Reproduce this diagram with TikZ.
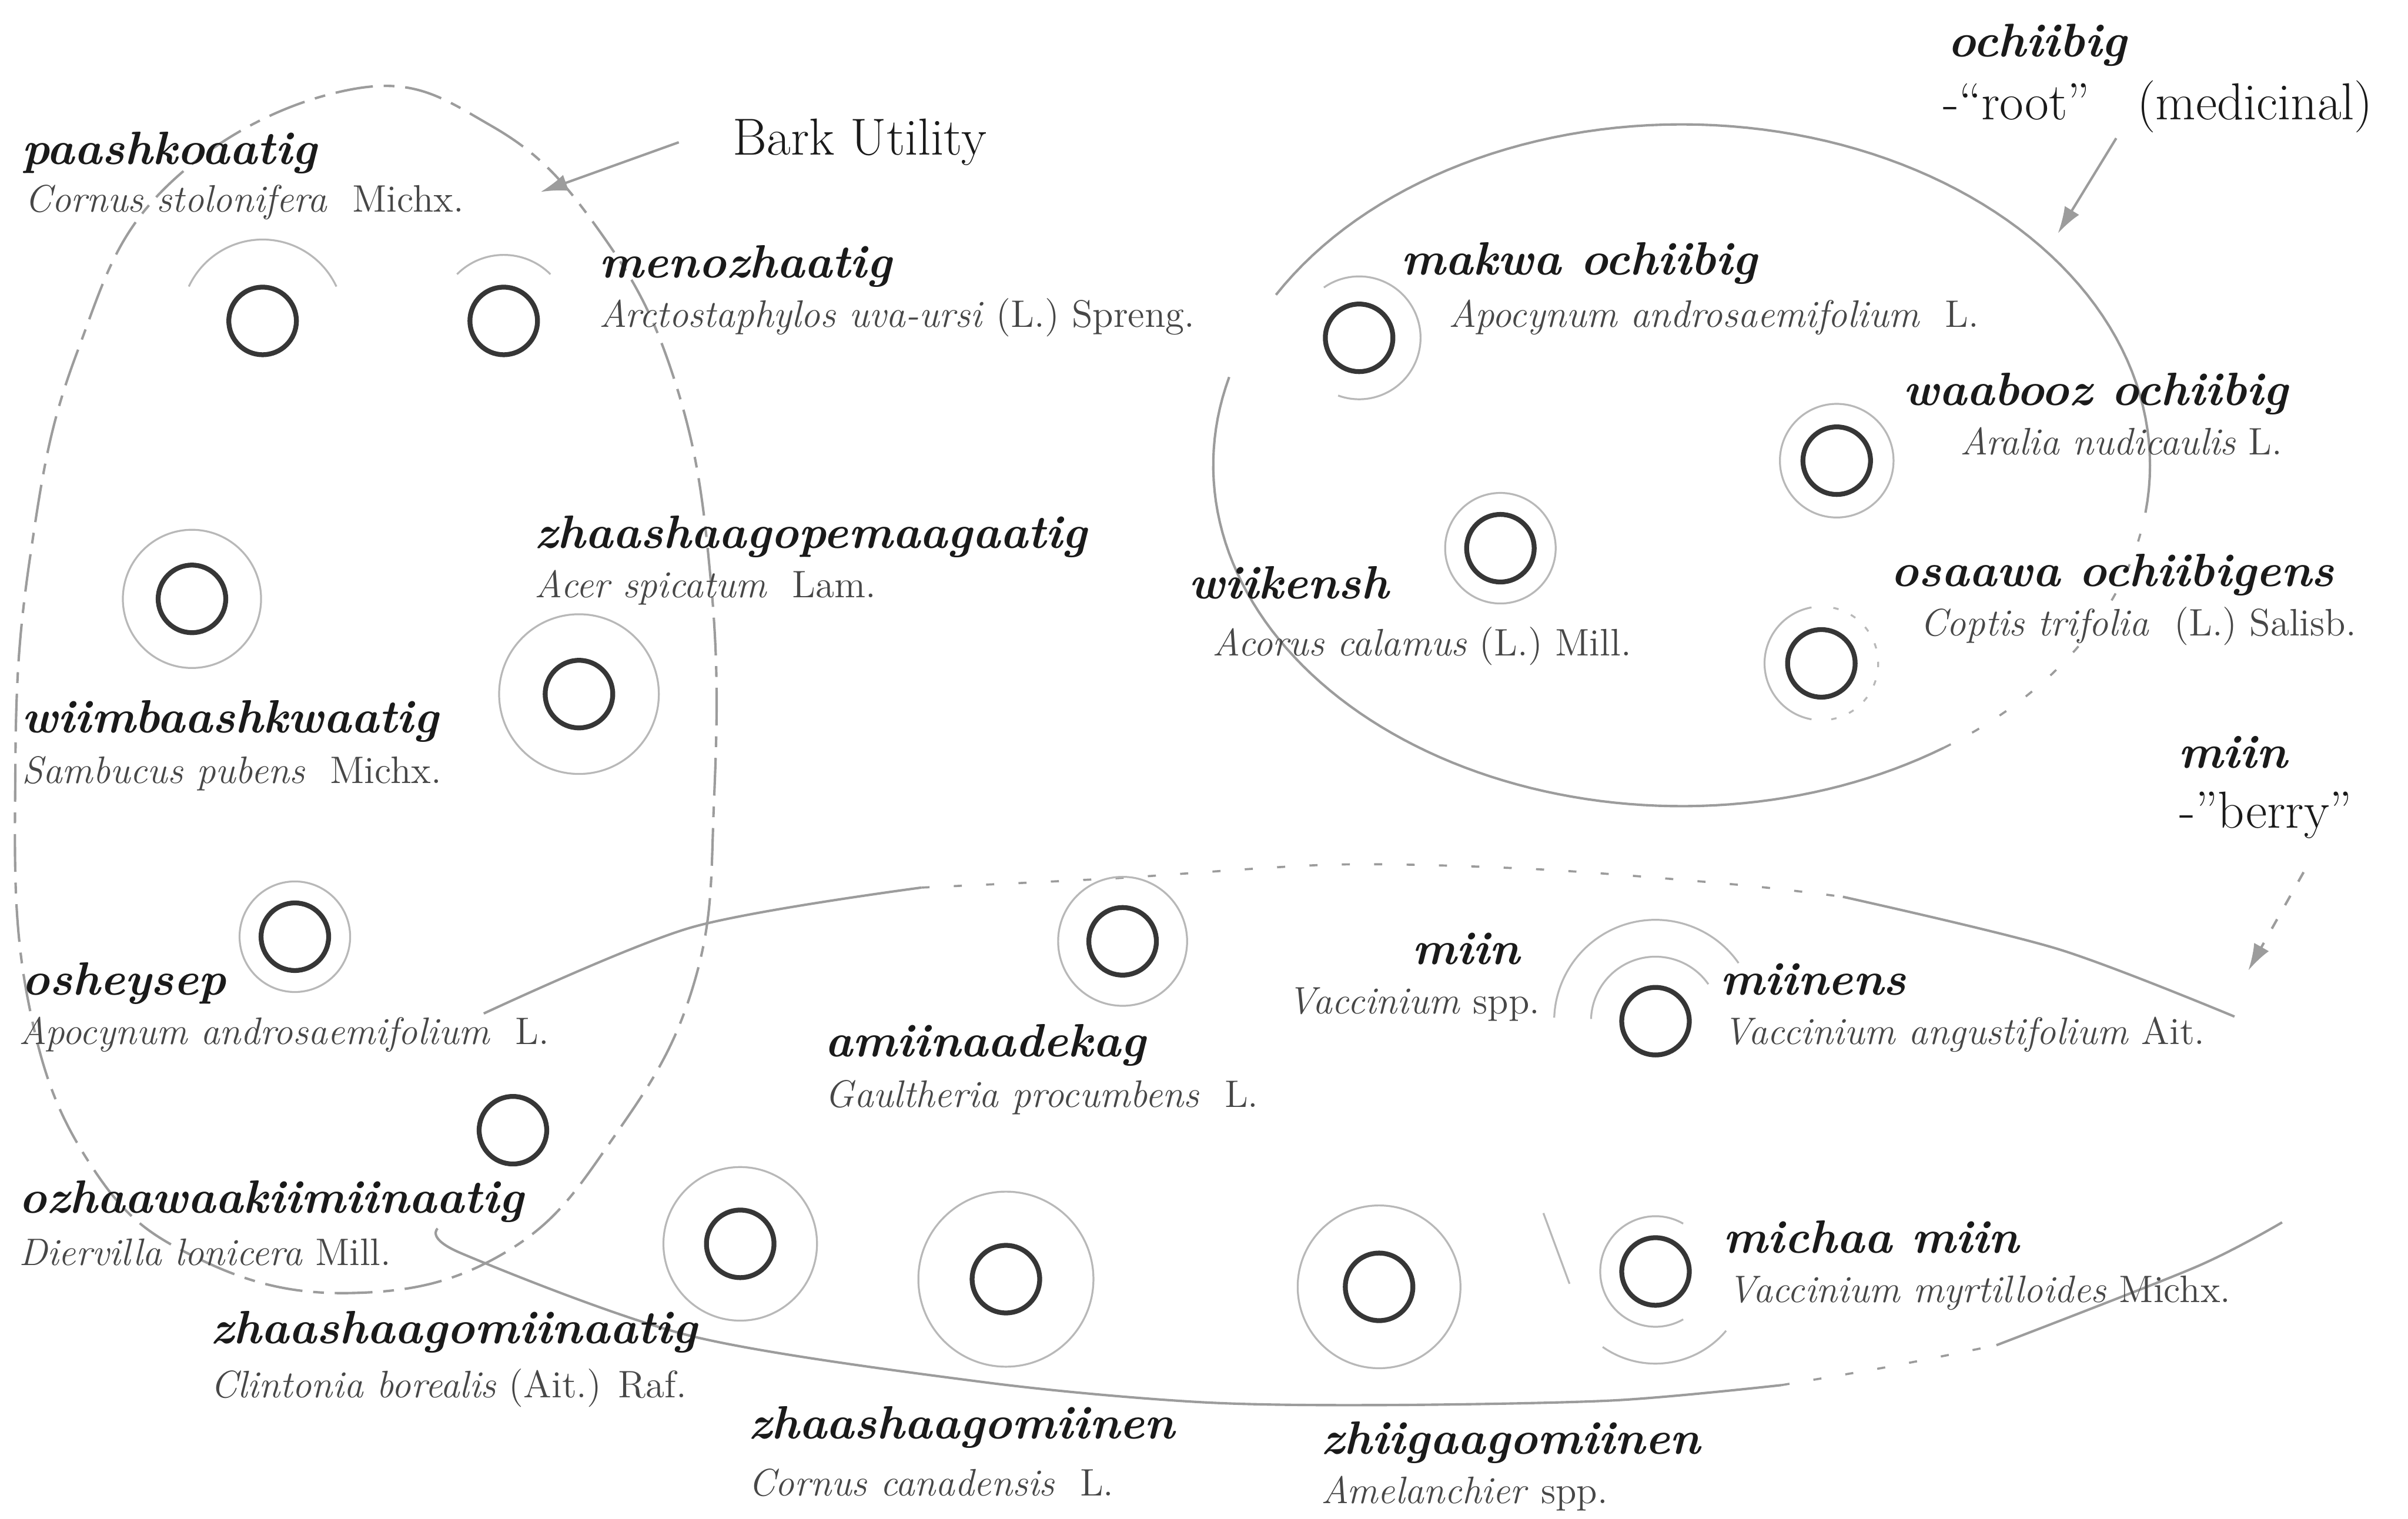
\documentclass[tikz,border=0pt]{standalone}
\usepackage{tikz}
\usetikzlibrary{arrows.meta}
\definecolor{dunkel}{HTML}{363636}
\definecolor{linie}{HTML}{9C9C9C}
\definecolor{hofgrau}{HTML}{B8B8B8}
\definecolor{schrift}{HTML}{1A1A1A}
\definecolor{artgrau}{HTML}{474747}
\tikzset{
  kreis/.style={circle,draw=dunkel,line width=1.8pt,minimum size=8.8mm,inner sep=0pt},
  hof/.style={hofgrau,line width=0.7pt},
  schleife/.style={linie,line width=0.9pt},
  strich/.style={linie,line width=0.9pt,dash pattern=on 14pt off 4pt on 4pt off 4pt},
  punkte/.style={linie,line width=0.8pt,dash pattern=on 3pt off 9pt},
  pfeil/.style={-{Latex[length=3.5mm,width=2.2mm]},linie,line width=0.9pt},
  wort/.style={anchor=base west,inner sep=0pt,schrift,font=\fontsize{17.3}{19}\selectfont\bfseries\itshape},
  art/.style={anchor=base west,inner sep=0pt,artgrau,font=\fontsize{14.2}{16}\selectfont},
  titel/.style={anchor=base west,inner sep=0pt,schrift,font=\fontsize{19.3}{22}\selectfont},
  kopf/.style={anchor=base west,inner sep=0pt,schrift,font=\fontsize{17.5}{20}\selectfont\bfseries\itshape},
}
\begin{document}
\begin{tikzpicture}[x=0.2mm,y=-0.2mm]
  \useasboundingbox[fill=white] (0,0) rectangle (1568,989);
  % loops
  \draw[strich] plot[smooth cycle,tension=0.7] coordinates {(230,58) (320,82) (390,150) (440,250)
    (463,380) (465,520) (452,640) (400,740) (330,815) (230,842) (130,820) (60,760) (18,650)
    (10,500) (20,360) (50,230) (110,120)};
  \draw[schleife] plot[domain=165:304,samples=80,variable=\t] ({1095+305*cos(\t)},{303-222*sin(\t)});
  \draw[punkte] plot[domain=304:352,samples=30,variable=\t] ({1095+305*cos(\t)},{303-222*sin(\t)});
  \draw[schleife] plot[domain=352:510,samples=80,variable=\t] ({1095+305*cos(\t)},{303-222*sin(\t)});
  \draw[schleife] plot[smooth] coordinates {(315,660) (450,604) (600,578)};
  \draw[punkte] plot[smooth] coordinates {(600,578) (725,572) (870,563) (1000,566) (1130,576) (1200,584)};
  \draw[schleife] plot[smooth] coordinates {(1200,584) (1340,618) (1455,662)};
  \draw[schleife] plot[smooth] coordinates {(285,800) (300,816) (450,870) (640,900) (780,913)
    (900,915) (1050,912) (1160,902)};
  \draw[punkte] plot[smooth] coordinates {(1160,902) (1230,890) (1300,876)};
  \draw[schleife] plot[smooth] coordinates {(1300,876) (1430,825) (1486,796)};
  % plants
  \node[kreis] (k1) at (171,209) {};
  \node[kreis] (k2) at (328,209) {};
  \node[kreis] (k3) at (885,220) {};
  \node[kreis] (k4) at (1196,300) {};
  \node[kreis] (k5) at (977,357) {};
  \node[kreis] (k6) at (1186,432) {};
  \node[kreis] (k7) at (125,390) {};
  \node[kreis] (k8) at (377,452) {};
  \node[kreis] (k9) at (192,610) {};
  \node[kreis] (k10) at (731,613) {};
  \node[kreis] (k11) at (334,736) {};
  \node[kreis] (k12) at (482,810) {};
  \node[kreis] (k13) at (655,833) {};
  \node[kreis] (k14) at (898,838) {};
  \node[kreis] (k15) at (1078,665) {};
  \node[kreis] (k16) at (1078,828) {};
  % halos
  \draw[hof] (k1.center) ++(25:10.6mm) arc[start angle=25,end angle=155,radius=10.6mm];
  \draw[hof] (k2.center) ++(45:8.6mm) arc[start angle=45,end angle=135,radius=8.6mm];
  \draw[hof] (k3.center) ++(-110:8mm) arc[start angle=-110,end angle=125,radius=8mm];
  \draw[hof] (k4) circle[radius=7.4mm];
  \draw[hof] (k5) circle[radius=7.2mm];
  \draw[hof] (k6.center) ++(100:7.4mm) arc[start angle=100,end angle=260,radius=7.4mm];
  \draw[hof,dash pattern=on 2pt off 5pt] (k6.center) ++(-80:7.4mm) arc[start angle=-80,end angle=80,radius=7.4mm];
  \draw[hof] (k7) circle[radius=9mm];
  \draw[hof] (k8) circle[radius=10.4mm];
  \draw[hof] (k9) circle[radius=7.2mm];
  \draw[hof] (k10) circle[radius=8.4mm];
  \draw[hof] (k12) circle[radius=10mm];
  \draw[hof] (k13) circle[radius=11.4mm];
  \draw[hof] (k14) circle[radius=10.6mm];
  \draw[hof] (k15.center) ++(35:13.2mm) arc[start angle=35,end angle=178,radius=13.2mm];
  \draw[hof] (k15.center) ++(35:8.4mm) arc[start angle=35,end angle=178,radius=8.4mm];
  \draw[hof] (k16.center) ++(60:7.2mm) arc[start angle=60,end angle=300,radius=7.2mm];
  \draw[hof] (k16.center) ++(235:12mm) arc[start angle=235,end angle=320,radius=12mm];
  \draw[hof] (1005,790) -- (1022,836);
  % labels
  \node[wort] (w1) at (14,107) {paashkoaatig};
  \node[art] (a1) at (16,138) {\textit{Cornus stolonifera}\ \ Michx.};
  \node[wort] (w2) at (390,181) {menozhaatig};
  \node[art] (a2) at (390,213) {\textit{Arctostaphylos uva-ursi} (L.) Spreng.};
  \node[wort] (w3) at (348,357) {zhaashaagopemaagaatig};
  \node[art] (a3) at (348,389) {\textit{Acer spicatum}\ \ Lam.};
  \node[wort] (w4) at (14,477) {wiimbaashkwaatig};
  \node[art] (a4) at (14,510) {\textit{Sambucus pubens}\ \ Michx.};
  \node[wort] (w5) at (14,648) {osheysep};
  \node[art] (a5) at (12,680) {\textit{Apocynum androsaemifolium}\ \ L.};
  \node[wort] (w6) at (12,790) {ozhaawaakiimiinaatig};
  \node[art] (a6) at (12,824) {\textit{Diervilla lonicera} Mill.};
  \node[wort] (w7) at (137,875) {zhaashaagomiinaatig};
  \node[art] (a7) at (137,910) {\textit{Clintonia borealis} (Ait.) Raf.};
  \node[wort] (w8) at (487,937) {zhaashaagomiinen};
  \node[art] (a8) at (487,974) {\textit{Cornus canadensis}\ \ L.};
  \node[wort] (w9) at (860,947) {zhiigaagomiinen};
  \node[art] (a9) at (860,979) {\textit{Amelanchier} spp.};
  \node[wort] (w10) at (537,688) {amiinaadekag};
  \node[art] (a10) at (537,721) {\textit{Gaultheria procumbens}\ \ L.};
  \node[wort,anchor=base east] (w11) at (990,628) {miin};
  \node[art,anchor=base east] (a11) at (1003,660) {\textit{Vaccinium} spp.};
  \node[wort] (w12) at (1120,648) {miinens};
  \node[art] (a12) at (1122,680) {\textit{Vaccinium angustifolium} Ait.};
  \node[wort] (w13) at (1122,816) {michaa miin};
  \node[art] (a13) at (1125,848) {\textit{Vaccinium myrtilloides} Michx.};
  \node[wort] (w14) at (912,179) {makwa ochiibig};
  \node[art] (a14) at (943,213) {\textit{Apocynum androsaemifolium}\ \ L.};
  \node[wort] (w15) at (1239,264) {waabooz ochiibig};
  \node[art] (a15) at (1276,296) {\textit{Aralia nudicaulis} L.};
  \node[wort] (w16) at (774,390) {wiikensh};
  \node[art] (a16) at (789,427) {\textit{Acorus calamus} (L.) Mill.};
  \node[wort] (w17) at (1231,382) {osaawa ochiibigens};
  \node[art] (a17) at (1250,414) {\textit{Coptis trifolia}\ \ (L.) Salisb.};
  % headings
  \node[titel] (bark) at (477,101) {Bark Utility};
  \node[kopf] (h1) at (1268,37) {ochiibig};
  \node[titel] (h2) at (1265,78) {-``root''\ \ \ (medicinal)};
  \node[kopf] (h3) at (1418,500) {miin};
  \node[titel] (h4) at (1419,539) {-"berry"};
  \coordinate (bk) at (352,125);
  \coordinate (ro) at (1378,90);
  \coordinate (rk) at (1340,152);
  \coordinate (be) at (1500,568);
  \coordinate (bb) at (1464,632);
  \draw[pfeil] ([xshift=-7mm]bark.west) -- (bk);
  \draw[pfeil] (ro) -- (rk);
  \draw[pfeil,dash pattern=on 4pt off 6pt] (be) -- (bb);
\end{tikzpicture}
\end{document}
